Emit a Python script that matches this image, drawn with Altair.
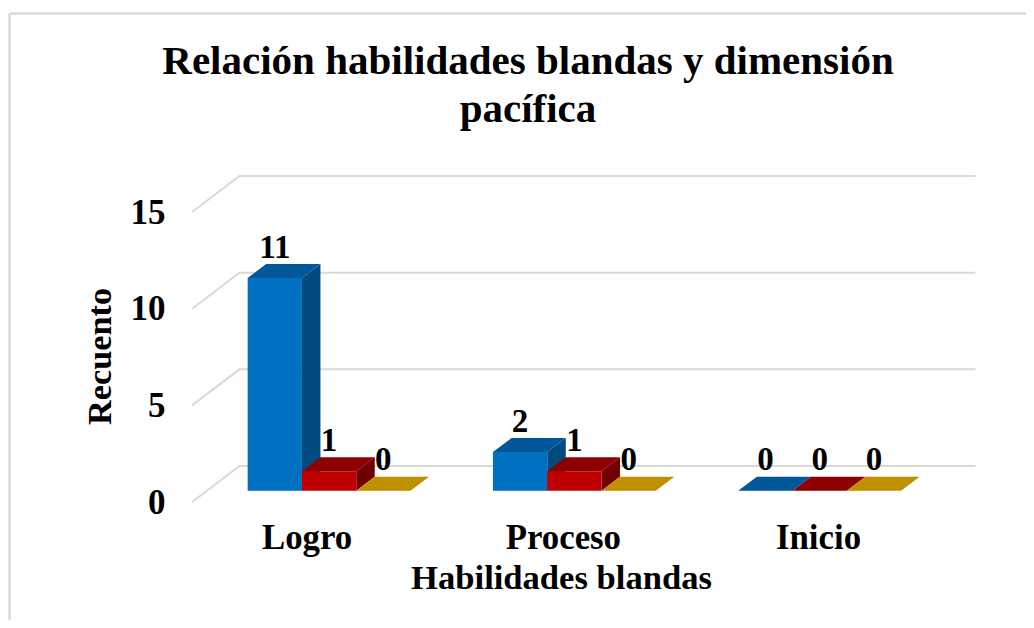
import altair as alt
import pandas as pd

categories = ["Logro", "Proceso", "Inicio"]
series_names = ["Serie 1", "Serie 2", "Serie 3"]
series_values = [
    [11, 2, 0],
    [1, 1, 0],
    [0, 0, 0],
]
front_colors = ["#0070C0", "#C00000", "#BF9000"]
top_colors = ["#00589A", "#8E0000", "#BF9000"]
side_colors = ["#004A80", "#700000", "#8F6C00"]
y_ticks = [0, 5, 10, 15]
label_positions = [0.24, 1.285, 2.325]
title_lines = ["Relación habilidades blandas y dimensión", "pacífica"]
FONT = "Liberation Serif"

# 3D geometry, in data units (categories on x, counts on y)
BAR_W = 0.2213
DEPTH_X = 0.0754
DEPTH_Y = 0.724
FLOOR = 0.585
WALL_X0, WALL_X1, WALL_X2 = -0.2265, -0.0334, 2.967
WALL_DY = 1.862

faces, labels = [], []
for s, vals in enumerate(series_values):
    for c, v in enumerate(vals):
        x0 = c + s * BAR_W
        x1 = x0 + BAR_W
        b = FLOOR
        t = FLOOR + v
        key = f"{s}-{c}"
        if v > 0:
            for x, y, y2 in [(x1, t, b), (x1 + DEPTH_X, t + DEPTH_Y, b + DEPTH_Y)]:
                faces.append(dict(face=key + "-side", fill=side_colors[s], x=x, y=y, y2=y2))
        for x, y, y2 in [
            (x0, t, t),
            (x0 + DEPTH_X, t + DEPTH_Y, t),
            (x1, t + DEPTH_Y, t),
            (x1 + DEPTH_X, t + DEPTH_Y, t + DEPTH_Y),
        ]:
            faces.append(dict(face=key + "-top", fill=top_colors[s], x=x, y=y, y2=y2))
        if v > 0:
            for x in (x0, x1):
                faces.append(dict(face=key + "-front", fill=front_colors[s], x=x, y=t, y2=b))
        labels.append(dict(x=(x0 + x1) / 2, y=t, text=str(v)))

grid = []
for v in y_ticks:
    for x, y in [(WALL_X0, v), (WALL_X1, v + WALL_DY), (WALL_X2, v + WALL_DY)]:
        grid.append(dict(level=v, x=x, y=y))

x_scale = alt.Scale(domain=[-0.977, 3.173], nice=False, zero=False)
y_scale = alt.Scale(domain=[-6.104, 25.556], nice=False, zero=False)

label_list = "[" + ",".join(f"'{c}'" for c in categories) + "]"
x_axis = alt.Axis(
    values=label_positions,
    labelExpr=f"{label_list}[round((datum.value-{label_positions[0]})/1.04)]",
    domain=False, ticks=False, grid=False, offset=-72, labelPadding=0,
    labelFont=FONT, labelFontSize=34.8, labelFontWeight="bold", labelColor="black",
    labelBaseline="alphabetic", labelFlush=False, labelOverlap=False,
    title="Habilidades blandas", titleFont=FONT, titleFontSize=34.6, titleFontWeight="bold",
    titleColor="black", titleX=553, titleY=40, titleAlign="center", titleBaseline="alphabetic",
)
y_axis = alt.Axis(
    values=y_ticks, format="d",
    domain=False, ticks=False, grid=False, offset=-157, labelPadding=0,
    labelFont=FONT, labelFontSize=35, labelFontWeight="bold", labelColor="black",
    title="Recuento", titleFont=FONT, titleFontSize=34.3, titleFontWeight="bold",
    titleColor="black", titleAngle=270, titleX=-55, titleY=348, titleAlign="center",
    titleBaseline="alphabetic",
)

X = alt.X("x:Q", scale=x_scale, axis=x_axis)
Y = alt.Y("y:Q", scale=y_scale, axis=y_axis, stack=None)

frame = pd.DataFrame({"k": [0]})
frame_top = alt.Chart(frame).mark_rule(color="#D9D9D9", strokeWidth=2.5).encode(
    x=alt.value(1.5), x2=alt.value(1018), y=alt.value(5.5))
frame_left = alt.Chart(frame).mark_rule(color="#D9D9D9", strokeWidth=2.5).encode(
    x=alt.value(1.5), y=alt.value(5.5), y2=alt.value(612))

grid_layer = alt.Chart(pd.DataFrame(grid)).mark_line(color="#D9D9D9", strokeWidth=2).encode(
    x=X, y=Y, detail="level:N", order=alt.Order("x:Q"))

face_layer = alt.Chart(pd.DataFrame(faces)).mark_area(interpolate="linear").encode(
    x=X, y=Y, y2="y2:Q",
    color=alt.Color("fill:N", scale=None), detail="face:N")

label_layer = alt.Chart(pd.DataFrame(labels)).mark_text(
    font=FONT, fontSize=33, fontWeight="bold", color="black",
    align="center", baseline="alphabetic", dy=-20.5).encode(x=X, y=Y, text="text:N")

chart = alt.layer(frame_top, frame_left, grid_layer, face_layer, label_layer).properties(
    width=1018, height=612,
    padding=0,
    autosize=alt.AutoSizeParams(type="none"),
    background="white",
    title=alt.TitleParams(
        text=title_lines, font=FONT, fontSize=41, fontWeight="bold", color="black",
        anchor="middle", frame="group", baseline="alphabetic", offset=0,
        dy=155, dx=11, lineHeight=48),
).configure_view(stroke=None)

chart.save("out.html", embed_options={"renderer": "svg", "actions": False})
